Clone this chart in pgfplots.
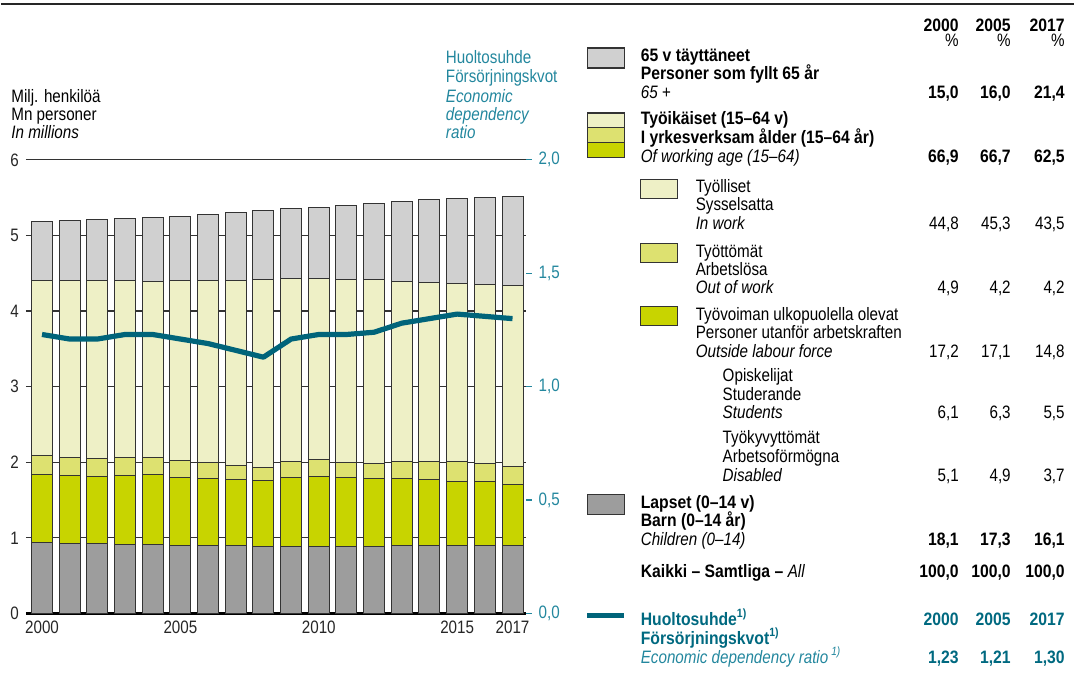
\documentclass[border=0pt]{standalone}
\usepackage{fontspec}
\setmainfont{Liberation Sans}[FakeStretch=0.845, BoldFeatures={FakeStretch=0.875}, BoldItalicFeatures={FakeStretch=0.875}]
\usepackage{pgfplots}
\usepackage{pgfplotstable}
\pgfplotsset{compat=1.18}

\definecolor{cold}{RGB}{208,208,208}
\definecolor{cwork}{RGB}{238,240,198}
\definecolor{cunemp}{RGB}{221,225,112}
\definecolor{cout}{RGB}{200,212,0}
\definecolor{cchild}{RGB}{157,157,157}
\definecolor{tealline}{RGB}{0,100,122}
\definecolor{tealtxt}{RGB}{35,135,158}
\definecolor{tealbold}{RGB}{0,105,128}

% segments in millions, ratio = economic dependency ratio
\pgfplotstableread{
year child outside unemp inwork old ratio
2000 0.938 0.894 0.252 2.316 0.781 1.23
2001 0.930 0.889 0.239 2.342 0.795 1.21
2002 0.925 0.889 0.239 2.347 0.806 1.21
2003 0.916 0.907 0.235 2.342 0.820 1.23
2004 0.910 0.922 0.230 2.335 0.840 1.23
2005 0.905 0.899 0.221 2.385 0.846 1.21
2006 0.898 0.890 0.203 2.409 0.877 1.19
2007 0.894 0.880 0.182 2.454 0.890 1.16
2008 0.889 0.872 0.164 2.499 0.902 1.13
2009 0.885 0.907 0.221 2.415 0.923 1.21
2010 0.885 0.925 0.225 2.402 0.938 1.23
2011 0.889 0.903 0.208 2.424 0.977 1.23
2012 0.889 0.894 0.204 2.428 1.011 1.24
2013 0.894 0.889 0.221 2.393 1.054 1.28
2014 0.898 0.872 0.234 2.380 1.088 1.30
2015 0.898 0.854 0.252 2.362 1.121 1.32
2016 0.894 0.849 0.239 2.371 1.150 1.31
2017 0.894 0.810 0.238 2.394 1.177 1.30
}\data

\newcommand\fs{\fontsize{9}{9.5}\selectfont}
\newcommand\nums[4]{%
  \node[anchor=base east] at (959,#1) {#2};
  \node[anchor=base east] at (1011,#1) {#3};
  \node[anchor=base east] at (1065,#1) {#4};}
\newcommand\txt[3]{\node[anchor=base west] at (#1,#2) {#3};}
\newcommand\swatch[3]{\draw[fill=#3, draw=black!80, line width=0.6pt] (587,#1) rectangle (624,#2);}

\begin{document}
\begin{tikzpicture}
\begin{axis}[
  at={(12.5pt,-307pt)}, anchor=south west,
  width=250pt, height=227pt, scale only axis,
  xmin=1999.42, xmax=2017.47, ymin=0, ymax=6,
  ybar stacked, bar width=10.5pt,
  axis x line*=bottom, axis y line*=left,
  x axis line style={-, line width=1.1pt, black},
  y axis line style={draw=none},
  xtick={2000,2005,2010,2015,2017},
  ytick={0,1,...,6},
  major tick length=0pt,
  ymajorgrids, grid style={black!80, line width=0.6pt},
  tick label style={font=\fs, black!85},
  /pgf/number format/assume math mode=true,
  /pgf/number format/1000 sep={},
  clip=false,
]
\addplot[fill=cchild, draw=black!80, line width=0.5pt] table[x=year,y=child]{\data};
\addplot[fill=cout, draw=black!80, line width=0.5pt] table[x=year,y=outside]{\data};
\addplot[fill=cunemp, draw=black!80, line width=0.5pt] table[x=year,y=unemp]{\data};
\addplot[fill=cwork, draw=black!80, line width=0.5pt] table[x=year,y=inwork]{\data};
\addplot[fill=cold, draw=black!80, line width=0.5pt] table[x=year,y=old]{\data};
\end{axis}

\begin{axis}[
  at={(12.5pt,-307pt)}, anchor=south west,
  width=250pt, height=227pt, scale only axis,
  xmin=1999.42, xmax=2017.47, ymin=0, ymax=2,
  axis x line=none, axis y line*=right,
  y axis line style={draw=none},
  ytick={0,0.5,1,1.5,2},
  tick align=outside, major tick length=3pt,
  ytick style={tealtxt, line width=0.6pt},
  yticklabel style={tealtxt, font=\fs},
  /pgf/number format/fixed,
  /pgf/number format/fixed zerofill,
  /pgf/number format/precision=1,
  /pgf/number format/use comma,
  /pgf/number format/assume math mode=true,
]
\addplot[line width=2.6pt, tealline, line join=round, no marks] table[x=year,y=ratio]{\data};
\end{axis}

\begin{scope}[x=0.5pt, y=-0.5pt, every node/.style={inner sep=0pt, font=\fs}]
\path (0,0) rectangle (1078,682);
\draw[line width=1pt, black!85] (0,4) -- (1074,4);

% axis titles
\txt{10}{103}{Milj. henkilöä}
\txt{10}{121}{Mn personer}
\txt{10}{139}{\itshape In millions}
\begin{scope}[every node/.append style={text=tealtxt}]
\txt{445}{64}{Huoltosuhde}
\txt{445}{83}{Försörjningskvot}
\txt{445}{103}{\itshape Economic}
\txt{445}{121}{\itshape dependency}
\txt{445}{139}{\itshape ratio}
\end{scope}

% header
\nums{32}{\bfseries 2000}{\bfseries 2005}{\bfseries 2017}
\nums{47}{\%}{\%}{\%}

% 65+
\swatch{48}{68}{cold}
\txt{640}{62}{\bfseries 65 v täyttäneet}
\txt{640}{80}{\bfseries Personer som fyllt 65 år}
\txt{640}{99}{\itshape 65 +}
\nums{99}{\bfseries 15,0}{\bfseries 16,0}{\bfseries 21,4}

% working age
\swatch{113}{128}{cwork}
\swatch{128}{143}{cunemp}
\swatch{143}{158}{cout}
\txt{640}{125}{\bfseries Työikäiset (15–64 v)}
\txt{640}{144}{\bfseries I yrkesverksam ålder (15–64 år)}
\txt{640}{163}{\itshape Of working age (15–64)}
\nums{163}{\bfseries 66,9}{\bfseries 66,7}{\bfseries 62,5}

\draw[fill=cwork, draw=black!80, line width=0.6pt] (640,180) rectangle (677,199);
\txt{695}{193}{Työlliset}
\txt{695}{211}{Sysselsatta}
\txt{695}{230}{\itshape In work}
\nums{230}{44,8}{45,3}{43,5}

\draw[fill=cunemp, draw=black!80, line width=0.6pt] (640,244) rectangle (677,263);
\txt{695}{258}{Työttömät}
\txt{695}{276}{Arbetslösa}
\txt{695}{294}{\itshape Out of work}
\nums{294}{4,9}{4,2}{4,2}

\draw[fill=cout, draw=black!80, line width=0.6pt] (640,307) rectangle (677,326);
\txt{695}{321}{Työvoiman ulkopuolella olevat}
\txt{695}{339}{Personer utanför arbetskraften}
\txt{695}{358}{\itshape Outside labour force}
\nums{358}{17,2}{17,1}{14,8}

\txt{722}{382}{Opiskelijat}
\txt{722}{401}{Studerande}
\txt{722}{419}{\itshape Students}
\nums{419}{6,1}{6,3}{5,5}

\txt{722}{444}{Työkyvyttömät}
\txt{722}{463}{Arbetsoförmögna}
\txt{722}{482}{\itshape Disabled}
\nums{482}{5,1}{4,9}{3,7}

% children
\swatch{495}{515}{cchild}
\txt{640}{509}{\bfseries Lapset (0–14 v)}
\txt{640}{527}{\bfseries Barn (0–14 år)}
\txt{640}{546}{\itshape Children (0–14)}
\nums{546}{\bfseries 18,1}{\bfseries 17,3}{\bfseries 16,1}

\txt{640}{578}{\bfseries Kaikki – Samtliga – \mdseries\itshape All}
\nums{578}{\bfseries 100,0}{\bfseries 100,0}{\bfseries 100,0}

% dependency ratio
\draw[tealline, line width=2.6pt] (587,616) -- (624,616);
\begin{scope}[every node/.append style={text=tealbold}]
\txt{640}{626}{\bfseries Huoltosuhde\textsuperscript{1)}}
\txt{640}{645}{\bfseries Försörjningskvot\textsuperscript{1)}}
\nums{626}{\bfseries 2000}{\bfseries 2005}{\bfseries 2017}
\nums{664}{\bfseries 1,23}{\bfseries 1,21}{\bfseries 1,30}
\end{scope}
\txt{640}{664}{\color{tealtxt}\itshape Economic dependency ratio\,\textsuperscript{1)}}
\end{scope}
\end{tikzpicture}
\end{document}
